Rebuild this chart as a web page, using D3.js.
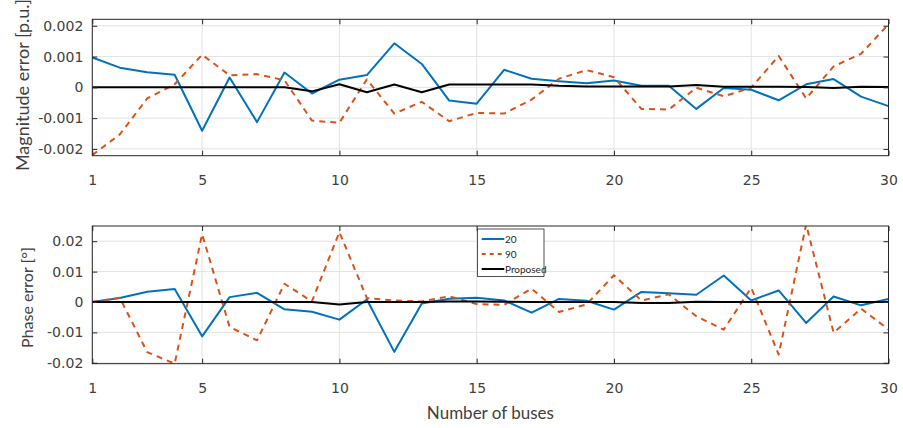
<!DOCTYPE html>
<html><head><meta charset="utf-8">
<script src="https://cdn.jsdelivr.net/npm/d3@7"></script>
<style>
html,body{margin:0;padding:0;background:#fff;}
</style></head>
<body><svg id="c" width="903" height="428"></svg>
<script>
const buses = d3.range(1, 31);
const xTicks = [1, 5, 10, 15, 20, 25, 30];

// Magnitude error [p.u.]
const mag20 = [0.00097,0.00064,0.00049,0.00041,-0.00141,0.00032,-0.00113,0.00048,-0.0002,0.00025,
  0.0004,0.00143,0.00076,-0.00043,-0.00053,0.00057,0.00028,0.0002,0.00013,0.00022,
  0.00005,0.00005,-0.0007,-0.00002,-0.00008,-0.00042,0.0001,0.00027,-0.0003,-0.00061];
const mag90 = [-0.0022,-0.00153,-0.00036,0.0001,0.00106,0.00039,0.00043,0.00023,-0.00108,-0.00115,
  0.00026,-0.00085,-0.00047,-0.0011,-0.00083,-0.00085,-0.0004,0.00028,0.00056,0.00033,
  -0.0007,-0.00072,-0.00001,-0.00029,-0.00001,0.00102,-0.00036,0.00068,0.00109,0.00205];
const magProp = [0,0,0,0,0,0,0,0,-0.00013,0.0001,
  -0.00016,0.00009,-0.00016,0.00009,0.00009,0.00009,0.00009,0.00005,0.00003,0.00003,
  0.00003,0.00003,0.00008,0.00002,0.00002,0.00002,0.00001,-0.00002,0.00002,0.00001];
const magTicks = [-0.002, -0.001, 0, 0.001, 0.002];
const magTickLabels = ["-0.002", "-0.001", "0", "0.001", "0.002"];

// Phase error [deg]
const ph20 = [0,0.0013,0.0034,0.0043,-0.0113,0.0016,0.003,-0.0024,-0.0032,-0.0058,
  0.0008,-0.0164,-0.0005,0.0011,0.0014,0.0005,-0.0035,0.001,0.0004,-0.0025,
  0.0033,0.0029,0.0024,0.0087,0.0005,0.0038,-0.0069,0.0018,-0.0011,0.001];
const ph90 = [0,0.0014,-0.0165,-0.0203,0.0223,-0.0082,-0.0126,0.006,0.0002,0.023,
  0.0013,0.0005,0.0002,0.0019,-0.0007,-0.0009,0.0044,-0.0033,-0.0008,0.0088,
  0.0005,0.0025,-0.0047,-0.0091,0.0047,-0.0173,0.0255,-0.0101,-0.0022,-0.009];
const phProp = [0,0,0,0,0,0,0,0,0,-0.0008,
  0,0,0,0.0002,0.0002,0.0001,0,0,0,0,
  -0.0003,-0.0003,0.0001,0,0,0,0,0,0,0];
const phTicks = [-0.02, -0.01, 0, 0.01, 0.02];
const phTickLabels = ["-0.02", "-0.01", "0", "0.01", "0.02"];

const seriesNames = ["20", "90", "Proposed"];
const colors = ["#0072BD", "#D95319", "#000000"];
const dashes = [null, "6,5", null];

const TEXT_FONT = "Lato, 'Open Sans', sans-serif";
const TICK_FONT = "'DejaVu Sans', sans-serif";

const svg = d3.select("#c");
const L = 92.3, R = 888.5;
const x = d3.scaleLinear().domain([1, 30]).range([L, R]);

function panel(id, top, bottom, domain, ticks, tickLabels, data, ylabel, lab) {
  const y = d3.scaleLinear().domain(domain).range([bottom, top]);
  const g = svg.append("g");
  g.append("clipPath").attr("id", id).append("rect")
    .attr("x", L).attr("y", top).attr("width", R - L).attr("height", bottom - top);
  // grid
  g.selectAll(".gx").data(xTicks).enter().append("line")
    .attr("x1", d => x(d)).attr("x2", d => x(d)).attr("y1", top).attr("y2", bottom)
    .attr("stroke", "#e3e3e3").attr("stroke-width", 1);
  g.selectAll(".gy").data(ticks).enter().append("line")
    .attr("y1", d => y(d)).attr("y2", d => y(d)).attr("x1", L).attr("x2", R)
    .attr("stroke", "#e3e3e3").attr("stroke-width", 1);
  // lines
  const line = d3.line().x((d, i) => x(buses[i])).y(d => y(d));
  const lg = g.append("g").attr("clip-path", `url(#${id})`);
  data.forEach((s, k) => {
    lg.append("path").datum(s).attr("d", line).attr("fill", "none")
      .attr("stroke", colors[k]).attr("stroke-width", 2)
      .attr("stroke-dasharray", dashes[k]).attr("stroke-linejoin", "round");
  });
  // axes with inner ticks
  const ax = g.append("g");
  ax.append("g").attr("transform", `translate(0,${bottom})`)
    .call(d3.axisBottom(x).tickValues(xTicks).tickSizeInner(-5).tickSizeOuter(0).tickPadding(19).tickFormat(d3.format("d")));
  ax.append("g").attr("transform", `translate(0,${top})`)
    .call(d3.axisTop(x).tickValues(xTicks).tickSizeInner(-5).tickSizeOuter(0).tickFormat(""));
  ax.append("g").attr("transform", `translate(${L},0)`)
    .call(d3.axisLeft(y).tickValues(ticks).tickSizeInner(-5).tickSizeOuter(0).tickPadding(9)
      .tickFormat((d, i) => tickLabels[i]));
  ax.append("g").attr("transform", `translate(${R},0)`)
    .call(d3.axisRight(y).tickValues(ticks).tickSizeInner(-5).tickSizeOuter(0).tickFormat(""));
  ax.selectAll(".domain").remove();
  ax.selectAll("g").attr("font-family", TICK_FONT).attr("font-size", 14);
  ax.selectAll(".tick line").attr("stroke", "#262626");
  ax.selectAll(".tick text").attr("font-family", TICK_FONT).attr("font-size", 14).attr("fill", "#404040");
  g.append("rect").attr("x", L).attr("y", top).attr("width", R - L).attr("height", bottom - top)
    .attr("fill", "none").attr("stroke", "#262626").attr("stroke-width", 1);
  // y label
  g.append("text").attr("transform", `translate(${lab.x},${lab.y}) rotate(-90)`)
    .attr("text-anchor", "middle").attr("font-family", TEXT_FONT).attr("fill", "#404040")
    .attr("font-size", lab.size).text(ylabel);
  return y;
}

panel("cp1", 19.3, 155.7, [-0.00222, 0.00221], magTicks, magTickLabels,
  [mag20, mag90, magProp], "Magnitude error [p.u.]", {x: 28.5, y: 85, size: 18});
panel("cp2", 226, 363.7, [-0.0203, 0.025], phTicks, phTickLabels,
  [ph20, ph90, phProp], "Phase error [°]", {x: 33, y: 297.5, size: 16});

svg.append("text").attr("x", (L + R) / 2).attr("y", 419).attr("text-anchor", "middle")
  .attr("font-family", TEXT_FONT).attr("fill", "#404040")
  .attr("font-size", 17).text("Number of buses");

// legend
const lgd = svg.append("g");
lgd.append("rect").attr("x", 477.5).attr("y", 229).attr("width", 66.5).attr("height", 47.5)
  .attr("fill", "#fff").attr("stroke", "#262626").attr("stroke-width", 0.8);
seriesNames.forEach((n, k) => {
  const yy = 239 + k * 15;
  lgd.append("line").attr("x1", 481.7).attr("x2", 504.3).attr("y1", yy).attr("y2", yy)
    .attr("stroke", colors[k]).attr("stroke-width", 2).attr("stroke-dasharray", dashes[k] ? "4,4" : null);
  lgd.append("text").attr("x", 505).attr("y", yy).attr("dominant-baseline", "central")
    .attr("font-family", TEXT_FONT)
    .attr("font-size", 10).attr("fill", "#262626").text(n);
});
</script></body></html>
